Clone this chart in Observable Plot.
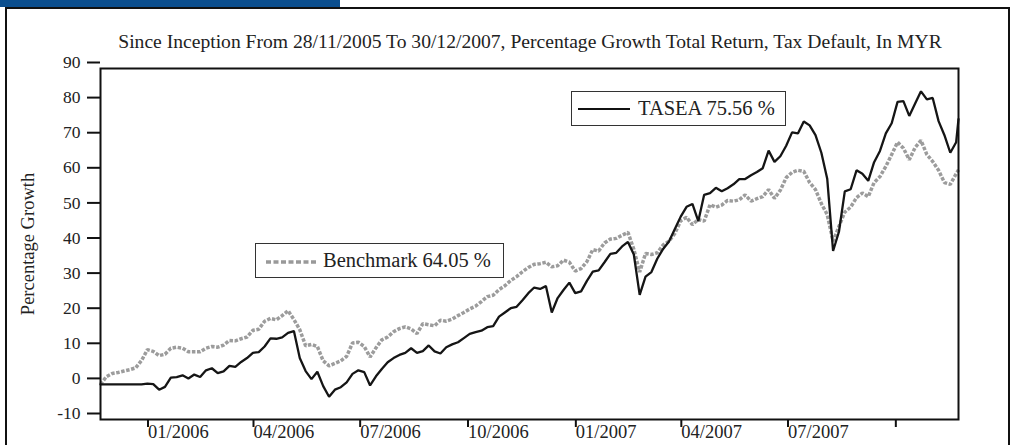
<!DOCTYPE html>
<html>
<head>
<meta charset="utf-8">
<script src="https://cdn.jsdelivr.net/npm/d3@7"></script>
<script src="https://cdn.jsdelivr.net/npm/@observablehq/plot@0.6"></script>
<style>
  html, body { margin: 0; padding: 0; background: #fff; }
  #page { position: relative; width: 1015px; height: 445px; overflow: hidden; font-family: "Liberation Serif", "DejaVu Serif", serif; color: #222; }
  #bluebar { position: absolute; left: 0; top: 0; width: 340px; height: 7px; background: #0b4e8e; }
  #outer { position: absolute; left: 5px; top: 7px; width: 1005px; height: 460px; border: 2px solid #111; box-sizing: border-box; }
  #chart { position: absolute; left: 0; top: 0; }
  #title { position: absolute; left: 0; width: 1060px; top: 31px; text-align: center; font-size: 19.6px; white-space: nowrap; }
  #ylabel { position: absolute; left: 28px; top: 244px; font-size: 18.5px; white-space: nowrap; transform: translate(-50%, -50%) rotate(-90deg); }
  .legend { position: absolute; border: 1px solid #333; background: #fff; box-sizing: border-box; font-size: 20.5px; white-space: nowrap; }
  .legend svg { position: absolute; left: 0; top: 0; }
  .legend span { position: absolute; top: 50%; transform: translateY(-52%); }
</style>
</head>
<body>
<div id="page">
  <div id="bluebar"></div>
  <div id="outer"></div>
  <div id="chart"></div>
  <div id="title"></div>
  <div id="ylabel"></div>
  <div class="legend" id="legTasea" style="left:571px; top:91px; width:215px; height:35px;">
    <svg width="215" height="35"><line x1="6" x2="58" y1="17" y2="17" stroke="#111" stroke-width="2.2"></line></svg>
    <span style="left:66px;"></span>
  </div>
  <div class="legend" id="legBench" style="left:255px; top:243px; width:249px; height:35px;">
    <svg width="249" height="35"><line x1="10" x2="62" y1="18" y2="18" stroke="#999" stroke-width="3.5" stroke-dasharray="5,2.5"></line></svg>
    <span style="left:67px;"></span>
  </div>
</div>
<script>
const titleText = "Since Inception From 28/11/2005 To 30/12/2007, Percentage Growth Total Return, Tax Default, In MYR";
const yAxisLabel = "Percentage Growth";
const seriesNames = ["TASEA 75.56 %", "Benchmark 64.05 %"];

const dates = [
"2005-11-30","2005-12-05","2005-12-10","2005-12-15","2005-12-20","2005-12-25","2005-12-30",
"2006-01-04","2006-01-09","2006-01-14","2006-01-19","2006-01-24","2006-01-29","2006-02-03",
"2006-02-08","2006-02-13","2006-02-18","2006-02-23","2006-02-28","2006-03-05","2006-03-10",
"2006-03-15","2006-03-20","2006-03-25","2006-03-30","2006-04-04","2006-04-09","2006-04-14",
"2006-04-19","2006-04-24","2006-04-29","2006-05-04","2006-05-09","2006-05-14","2006-05-19",
"2006-05-24","2006-05-29","2006-06-03","2006-06-08","2006-06-13","2006-06-18","2006-06-23",
"2006-06-28","2006-07-03","2006-07-08","2006-07-13","2006-07-18","2006-07-23","2006-07-28",
"2006-08-02","2006-08-07","2006-08-12","2006-08-17","2006-08-22","2006-08-27","2006-09-01",
"2006-09-06","2006-09-11","2006-09-16","2006-09-21","2006-09-26","2006-10-01","2006-10-06",
"2006-10-11","2006-10-16","2006-10-21","2006-10-26","2006-10-31","2006-11-05","2006-11-10",
"2006-11-15","2006-11-20","2006-11-25","2006-11-30","2006-12-05","2006-12-10","2006-12-15",
"2006-12-20","2006-12-25","2006-12-30","2007-01-04","2007-01-09","2007-01-14","2007-01-19",
"2007-01-24","2007-01-29","2007-02-03","2007-02-08","2007-02-13","2007-02-18","2007-02-23",
"2007-02-28","2007-03-05","2007-03-10","2007-03-15","2007-03-20","2007-03-25","2007-03-30",
"2007-04-04","2007-04-09","2007-04-14","2007-04-19","2007-04-24","2007-04-29","2007-05-04",
"2007-05-09","2007-05-14","2007-05-19","2007-05-24","2007-05-29","2007-06-03","2007-06-08",
"2007-06-13","2007-06-18","2007-06-23","2007-06-28","2007-07-03","2007-07-08","2007-07-13",
"2007-07-18","2007-07-23","2007-07-28","2007-08-02","2007-08-07","2007-08-12","2007-08-17",
"2007-08-22","2007-08-27","2007-09-01","2007-09-06","2007-09-11","2007-09-16","2007-09-21",
"2007-09-26","2007-10-01","2007-10-06","2007-10-11","2007-10-16","2007-10-21","2007-10-26",
"2007-10-31","2007-11-05","2007-11-10","2007-11-15","2007-11-20","2007-11-25","2007-11-30",
"2007-12-02"
];

const tasea = [
0,0,0,0,0,0,0,
0,0.2,0.1,-1.5,-0.7,1.9,2.1,
2.6,1.7,2.8,2.1,4.0,4.6,3.2,
3.7,5.3,5.0,6.4,7.5,9.0,9.2,
10.8,13.1,13.0,13.4,14.7,15.2,7.5,
3.8,1.5,3.6,-0.5,-3.5,-1.5,-0.8,
0.6,3.0,4.0,3.5,-0.3,2.3,4.4,
6.3,7.5,8.4,9.0,10.3,9.0,9.5,
11.1,9.4,8.8,10.6,11.4,12.0,13.2,
14.4,14.9,15.3,16.3,16.6,19.3,20.5,
21.7,22.1,24.0,26.0,27.6,27.2,28.0,
20.5,24.6,26.9,29.0,26.0,26.5,29.5,
32.1,32.5,34.8,37.2,37.5,39.3,40.6,
37.0,25.5,30.7,32.0,35.8,38.6,40.7,
44.3,47.8,50.6,51.4,46.5,54.0,54.5,
56.0,55.0,55.9,57.0,58.5,58.5,59.6,
60.5,61.6,66.6,63.4,65.0,68.0,71.8,
71.5,74.9,73.8,71.0,66.0,58.6,38.0,
43.5,55.0,55.6,61.0,60.0,58.0,63.3,
66.5,71.5,74.4,80.5,80.7,76.5,80.0,
83.5,81.2,81.6,75.0,71.0,66.0,69.0,
75.56
];

const benchmark = [
0,2.2,3.1,3.4,3.8,4.2,4.7,
6.8,9.9,9.4,8.2,8.6,10.3,10.6,
10.3,9.3,9.3,9.3,10.3,10.8,10.6,
11.2,12.5,12.4,13.0,13.5,15.4,15.7,
18.0,18.8,18.4,19.6,21.0,18.5,15.6,
11.0,11.4,10.8,6.7,5.3,6.0,6.7,
8.0,11.8,12.0,10.8,7.8,10.4,12.7,
13.5,15.0,15.9,16.4,15.8,14.5,17.3,
17.0,16.7,18.3,18.0,18.6,19.6,20.5,
21.5,22.3,23.6,25.0,25.4,27.0,28.1,
29.6,30.7,32.1,33.3,34.2,34.4,34.8,
33.5,33.8,35.4,34.8,32.3,33.0,35.0,
38.4,38.0,40.3,41.4,41.6,42.5,43.3,
38.5,32.0,37.3,37.0,37.5,39.7,40.8,
43.0,46.6,47.6,45.5,47.0,46.5,51.2,
50.5,51.1,52.4,52.2,52.6,54.0,52.2,
52.9,53.5,55.5,53.0,55.3,58.9,60.4,
61.0,60.7,57.5,55.5,51.5,48.4,40.8,
45.0,49.1,50.5,53.2,54.5,53.5,57.5,
59.2,62.1,65.5,69.0,67.3,64.0,67.5,
69.5,65.5,63.5,61.0,57.5,57.0,60.0,
61.1
];

const yTicks = [-10, 0, 10, 20, 30, 40, 50, 60, 70, 80, 90];
const yTickLabels = ["-10", "0", "10", "20", "30", "40", "50", "60", "70", "80", "90"];
const xTickDates = ["2006-01-01","2006-04-01","2006-07-01","2006-10-01","2007-01-01","2007-04-01","2007-07-01","2007-10-01"];
const xTickLabels = ["01/2006","04/2006","07/2006","10/2006","01/2007","04/2007","07/2007",""];

document.getElementById("title").textContent = titleText;
document.getElementById("ylabel").textContent = yAxisLabel;
document.querySelector("#legTasea span").textContent = seriesNames[0];
document.querySelector("#legBench span").textContent = seriesNames[1];

const rows = dates.map((d, i) => ({date: new Date(d), tasea: tasea[i], benchmark: benchmark[i]}));
const xTicks = xTickDates.map(d => new Date(d));
const xLabelMap = new Map(xTicks.map((d, i) => [+d, xTickLabels[i]]));
const yLabelMap = new Map(yTicks.map((d, i) => [d, yTickLabels[i]]));

const chart = Plot.plot({
  width: 1015,
  height: 445,
  marginLeft: 100,
  marginRight: 57,
  marginTop: 68,
  marginBottom: 26,
  x: {type: "utc"},
  y: {domain: [-10, 90]},
  style: {fontFamily: "'Liberation Serif', serif", background: "transparent", color: "#222", overflow: "visible"},
  marks: [
    Plot.axisY({ticks: yTicks, tickSize: 13, tickPadding: 7, fontSize: 17.5, dy: -6, strokeWidth: 2, stroke: "#111", fill: "#222", label: null, tickFormat: d => yLabelMap.get(d)}),
    Plot.axisX({ticks: xTicks, tickSize: 8, tickPadding: -3, fontSize: 18.5, textAnchor: "start", dx: 10, strokeWidth: 2, stroke: "#111", fill: "#222", label: null, tickFormat: d => xLabelMap.get(+d)}),
    Plot.lineY(rows, {x: "date", y: "benchmark", stroke: "#9c9c9c", strokeWidth: 3.5, strokeDasharray: "3.5,1.6", strokeLinecap: "butt", strokeLinejoin: "miter"}),
    Plot.lineY(rows, {x: "date", y: "tasea", stroke: "#151515", strokeWidth: 2.3, strokeLinejoin: "miter"}),
    Plot.frame({stroke: "#111", strokeWidth: 2})
  ]
});
document.getElementById("chart").appendChild(chart);
</script>
</body>
</html>
